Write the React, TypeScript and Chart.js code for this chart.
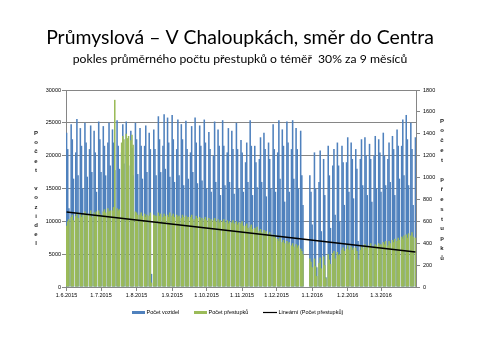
import { useEffect, useRef } from 'react';
import { Chart, registerables } from 'chart.js';

Chart.register(...registerables);

const titleText = 'Průmyslová – V Chaloupkách, směr do Centra';
const subtitleText = 'pokles průměrného počtu přestupků o téměř  30% za 9 měsíců';
const leftAxisTitle = 'Počet vozidel';
const rightAxisTitle = 'Počet přestupků';
const seriesNames = ['Počet vozidel', 'Počet přestupků', 'Lineární (Počet přestupků)'];

const monthTickLabels = [
  '1.6.2015', '1.7.2015', '1.8.2015', '1.9.2015', '1.10.2015',
  '1.11.2015', '1.12.2015', '1.1.2016', '1.2.2016', '1.3.2016',
];

// daily values from 1.6.2015 to 31.3.2016
const vehicles = [
  23500,21000,12000,0, 24800,22500,16500,0, 20500,25600,17000,0, 24200,21500,15000,0,
  25000,22000,16800,0, 21000,24600,17500,0, 23800,20500,14500,0, 25200,22500,17500,0,
  24500,21500,17000,0, 22000,25000,18500,0, 24000,22000,17800,0, 25400,21500,18000,0,
  20500,24800,18800,0, 25200,22000,18500,0, 23800,21200,17000,0, 25000,22500,17200,0,
  24200,21500,16500,0, 21500,24600,17500,0, 23500,21000,2000,0, 24000,21000,17000,0,
  26000,22500,17500,0, 21500,26300,18000,0, 25800,22000,16800,0, 26200,22500,16000,0,
  21000,25500,17000,0, 24800,22500,15500,0, 25300,21000,16500,0, 20500,24500,17500,0,
  25800,22000,15800,0, 24600,21500,16200,0, 25500,22000,15000,0, 23600,21000,14500,0,
  20000,25200,16000,0, 24000,21500,14000,0, 25400,21500,15500,0, 20500,24200,16000,0,
  23800,21000,14200,0, 25000,21000,15000,0, 22400,20500,14500,0, 19000,22000,16000,0,
  25400,21500,14000,0, 21500,19000,15200,0, 19500,22800,16000,0, 23500,21000,13800,0,
  22000,19500,15000,0, 24800,21000,14500,0, 20500,25400,16500,0, 24000,21500,13000,0,
  25200,22000,14500,0, 21000,25400,16500,0, 24200,21000,15000,0, 23800,17000,12500,0,
  0,0,0,0, 17000,14500,9500,0, 20500,15000,3000,0, 16000,20800,8500,0,
  19500,14000,1500,0, 21500,17000,9000,0, 18500,21000,11000,0, 22000,18500,10000,0,
  21500,19000,12500,0, 19000,22800,14500,0, 22000,19500,13500,0, 21000,18000,7000,0,
  19500,22500,15500,0, 22800,20000,14000,0, 21800,19500,13000,0, 20000,23000,15000,0,
  22500,20500,14500,0, 23500,20000,15500,0, 19500,22000,16000,0, 23000,21000,14000,0,
  24000,21500,16500,0, 21500,25500,17000,0, 26200,22500,15500,0, 25000,21000,12500,0,
  22800,
];

const offences = [
  560,600,620,0, 640,660,610,0, 650,680,630,0, 670,640,660,0,
  690,650,670,0, 660,700,640,0, 680,660,690,0, 700,670,650,0,
  690,710,680,0, 720,690,700,0, 700,730,1710,0, 720,700,710,0,
  1320,1380,1350,0, 1400,1360,1380,0, 1340,1390,1300,0, 690,680,660,0,
  660,680,650,0, 670,640,660,0, 650,680,40,0, 660,650,650,0,
  680,650,670,0, 640,670,650,0, 660,640,680,0, 650,670,640,0,
  660,640,650,0, 630,660,640,0, 650,620,640,0, 640,660,620,0,
  620,650,630,0, 640,610,630,0, 620,640,610,0, 630,600,620,0,
  610,630,600,0, 620,590,610,0, 600,620,590,0, 610,580,600,0,
  590,610,580,0, 600,570,590,0, 580,600,560,0, 560,580,540,0,
  550,570,530,0, 540,520,550,0, 510,530,500,0, 520,490,510,0,
  480,500,470,0, 460,480,450,0, 440,420,450,0, 410,430,400,0,
  420,390,410,0, 380,400,370,0, 390,360,380,0, 350,330,300,0,
  0,0,0,0, 260,230,180,0, 260,190,100,0, 220,270,170,0,
  280,200,80,0, 300,250,210,0, 310,330,260,0, 320,290,300,0,
  340,360,330,0, 350,380,340,0, 370,340,360,0, 360,330,250,0,
  340,380,360,0, 390,360,370,0, 380,400,360,0, 370,390,380,0,
  400,380,390,0, 410,390,420,0, 380,420,400,0, 430,410,440,0,
  420,450,430,0, 460,440,470,0, 480,450,490,0, 470,500,460,0,
  450,
];

// linear trend of offences: value at first day, value at last day
const trendEnds = [685, 320];

const dayLabels = vehicles.map((_, i) => {
  const d = new Date(Date.UTC(2015, 5, 1 + i));
  return `${d.getUTCDate()}.${d.getUTCMonth() + 1}.${d.getUTCFullYear()}`;
});

const BLUE = '#4F81BD';
const GREEN = '#9BBB59';
const GRID = '#868686';
const tickFont = { family: '"Liberation Sans", Arial, sans-serif', size: 5.5 };

function drawFitted(ctx: CanvasRenderingContext2D, text: string, cx: number, baseline: number, width: number, family: string) {
  ctx.font = `20px ${family}`;
  const w = ctx.measureText(text).width;
  const size = (20 * width) / w;
  ctx.font = `${size}px ${family}`;
  ctx.textAlign = 'center';
  ctx.textBaseline = 'alphabetic';
  ctx.fillStyle = '#000';
  ctx.fillText(text, cx, baseline);
}

function drawStacked(ctx: CanvasRenderingContext2D, text: string, x: number, cy: number, spacing: number) {
  const chars = Array.from(text);
  const start = cy - ((chars.length - 1) / 2) * spacing;
  ctx.font = 'bold 6px "Liberation Sans", Arial, sans-serif';
  ctx.textAlign = 'center';
  ctx.textBaseline = 'middle';
  ctx.fillStyle = '#222';
  chars.forEach((c, i) => {
    if (c !== ' ') ctx.fillText(c, x, start + i * spacing);
  });
}

const decorPlugin = {
  id: 'decor',
  afterDraw(chart: any) {
    const ctx: CanvasRenderingContext2D = chart.ctx;
    const area = chart.chartArea;
    ctx.save();
    drawFitted(ctx, titleText, 240, 44, 388, 'Lato, "Open Sans", sans-serif');
    drawFitted(ctx, subtitleText, 240, 63, 335, 'Lato, "Open Sans", sans-serif');
    const cy = (area.top + area.bottom) / 2;
    drawStacked(ctx, leftAxisTitle, 36, cy, 9.2);
    drawStacked(ctx, rightAxisTitle, 442, cy + 1, 9.8);

    // legend
    const ly = 312.5;
    ctx.font = '5.5px "Liberation Sans", Arial, sans-serif';
    ctx.textAlign = 'left';
    ctx.textBaseline = 'middle';
    ctx.fillStyle = BLUE;
    ctx.fillRect(132, ly - 1.5, 13, 3);
    ctx.fillStyle = '#000';
    ctx.fillText(seriesNames[0], 146.5, ly);
    ctx.fillStyle = GREEN;
    ctx.fillRect(194, ly - 1.5, 13, 3);
    ctx.fillStyle = '#000';
    ctx.fillText(seriesNames[1], 208.5, ly);
    ctx.strokeStyle = '#000';
    ctx.lineWidth = 1.2;
    ctx.beginPath();
    ctx.moveTo(263, ly);
    ctx.lineTo(277, ly);
    ctx.stroke();
    ctx.fillText(seriesNames[2], 278.5, ly);
    ctx.restore();
  },
};

export default function App() {
  const ref = useRef<HTMLCanvasElement>(null);
  useEffect(() => {
    const last = dayLabels.length - 1;
    const chart = new Chart(ref.current as HTMLCanvasElement, {
      type: 'bar',
      data: {
        labels: dayLabels,
        datasets: [
          {
            type: 'line',
            label: seriesNames[2],
            data: [
              { x: dayLabels[0], y: trendEnds[0] },
              { x: dayLabels[last], y: trendEnds[1] },
            ] as any,
            yAxisID: 'y1',
            borderColor: '#000',
            borderWidth: 1.5,
            pointRadius: 0,
            order: 0,
          } as any,
          {
            type: 'bar',
            label: seriesNames[1],
            data: offences,
            yAxisID: 'y1',
            backgroundColor: GREEN,
            borderWidth: 0,
            barPercentage: 1.35,
            categoryPercentage: 1,
            grouped: false,
            order: 1,
          } as any,
          {
            type: 'bar',
            label: seriesNames[0],
            data: vehicles,
            yAxisID: 'y',
            backgroundColor: BLUE,
            borderWidth: 0,
            barPercentage: 1.35,
            categoryPercentage: 1,
            grouped: false,
            order: 2,
          } as any,
        ],
      },
      options: {
        responsive: false,
        devicePixelRatio: 1,
        animation: false,
        layout: { padding: { top: 90, left: 0, right: 0, bottom: 0 } },
        plugins: {
          legend: { display: false },
          title: { display: false },
          tooltip: { enabled: false },
        },
        scales: {
          x: {
            type: 'category',
            offset: true,
            grid: { display: true, drawOnChartArea: false, drawTicks: true, tickLength: 4, color: GRID, offset: false },
            border: { display: true, color: GRID },
            ticks: { autoSkip: false, maxRotation: 0, minRotation: 0, padding: 1, font: tickFont, color: '#000' },
            afterBuildTicks: (s: any) => {
              s.ticks = s.ticks.filter((t: any) => monthTickLabels.includes(dayLabels[t.value]));
            },
            afterFit: (s: any) => {
              s.height = 73;
            },
          },
          y: {
            position: 'left',
            min: 0,
            max: 30000,
            ticks: { stepSize: 5000, padding: 1, font: tickFont, color: '#000', callback: (v: any) => String(v) },
            grid: { color: GRID, tickLength: 4 },
            border: { color: GRID },
            afterFit: (s: any) => {
              s.width = 66;
            },
          },
          y1: {
            position: 'right',
            min: 0,
            max: 1800,
            ticks: { stepSize: 200, padding: 3, font: tickFont, color: '#000', callback: (v: any) => String(v) },
            grid: { drawOnChartArea: false, color: GRID, tickLength: 4 },
            border: { color: GRID },
            afterFit: (s: any) => {
              s.width = 64;
            },
          },
        },
      } as any,
      plugins: [decorPlugin],
    });
    return () => chart.destroy();
  }, []);
  return (
    <div style={{ position: 'absolute', left: 0, top: 0, width: 480, height: 360, background: '#fff' }}>
      <canvas ref={ref} width={480} height={360} style={{ display: 'block', width: 480, height: 360 }} />
    </div>
  );
}
